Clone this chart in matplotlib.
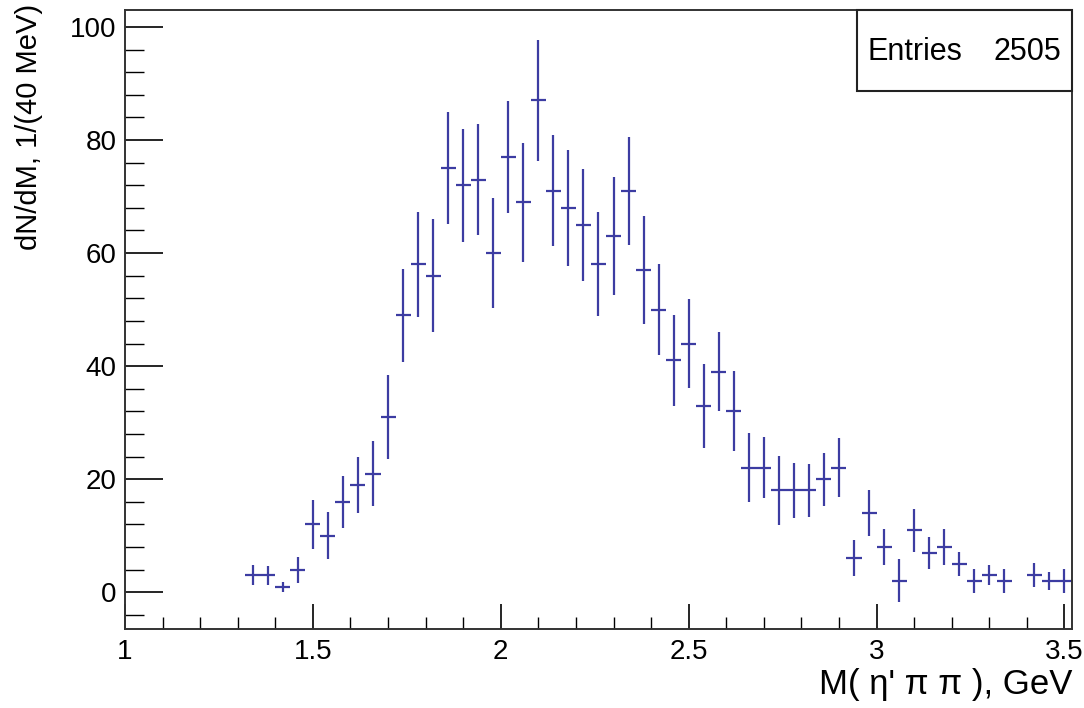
import numpy as np
import matplotlib
matplotlib.use('Agg')
import matplotlib.pyplot as plt
from matplotlib.patches import Rectangle
from matplotlib.ticker import MultipleLocator

plt.rcParams['font.family'] = ['Liberation Sans', 'DejaVu Sans']

# histogram, 40 MeV bins, centres of the non-empty bins
bin_width = 0.04
mass = [1.34, 1.38, 1.42, 1.46, 1.50, 1.54, 1.58, 1.62, 1.66, 1.70,
        1.74, 1.78, 1.82, 1.86, 1.90, 1.94, 1.98, 2.02, 2.06, 2.10,
        2.14, 2.18, 2.22, 2.26, 2.30, 2.34, 2.38, 2.42, 2.46, 2.50,
        2.54, 2.58, 2.62, 2.66, 2.70, 2.74, 2.78, 2.82, 2.86, 2.90,
        2.94, 2.98, 3.02, 3.06, 3.10, 3.14, 3.18, 3.22, 3.26, 3.30,
        3.34, 3.42, 3.46, 3.50]
counts = [3, 3, 1, 4, 12, 10, 16, 19, 21, 31,
          49, 58, 56, 75, 72, 73, 60, 77, 69, 87,
          71, 68, 65, 58, 63, 71, 57, 50, 41, 44,
          33, 39, 32, 22, 22, 18, 18, 18, 20, 22,
          6, 14, 8, 2, 11, 7, 8, 5, 2, 3,
          2, 3, 2, 2]
errors = [1.8, 1.7, 0.9, 2.3, 4.3, 4.2, 4.6, 5.0, 5.7, 7.4,
          8.2, 9.3, 10.0, 9.9, 10.0, 9.8, 9.8, 9.9, 10.5, 10.7,
          9.8, 10.3, 9.9, 9.2, 10.4, 9.5, 9.6, 8.0, 8.0, 7.8,
          7.4, 7.0, 7.1, 6.1, 5.4, 6.1, 4.9, 4.7, 4.7, 5.2,
          3.2, 4.1, 3.2, 3.8, 3.8, 2.8, 3.2, 2.2, 2.1, 1.8,
          2.1, 2.1, 1.6, 2.1]
entries = 2505

fig = plt.figure(figsize=(10.84, 7.08), dpi=100)
ax = fig.add_axes([0.1153, 0.1116, 0.8736, 0.8743])

ax.errorbar(mass, counts, xerr=bin_width / 2, yerr=errors, fmt='none',
            ecolor='#3c3ca2', elinewidth=1.6, capsize=0)

ax.set_xlim(1.0, 3.52)
ax.set_ylim(-6.5, 103)

# ROOT-like ticks: inward, only left and bottom
ax.xaxis.set_major_locator(MultipleLocator(0.5))
ax.xaxis.set_minor_locator(MultipleLocator(0.1))
ax.yaxis.set_major_locator(MultipleLocator(20))
ax.yaxis.set_minor_locator(MultipleLocator(4))
ax.tick_params(axis='x', which='major', direction='in', length=18, width=1.2, labelsize=20, pad=7)
ax.tick_params(axis='x', which='minor', direction='in', length=9, width=1.0)
ax.tick_params(axis='y', which='major', direction='in', length=27, width=1.2, labelsize=20, pad=6)
ax.tick_params(axis='y', which='minor', direction='in', length=14, width=1.0)
ax.set_xticks([1, 1.5, 2, 2.5, 3, 3.5])
ax.set_xticklabels(['1', '1.5', '2', '2.5', '3', '3.5'])
for sp in ax.spines.values():
    sp.set_color('#333333')
    sp.set_linewidth(1.4)

fig.text(0.989, 0.010, "M( η' π π ), GeV", ha='right', va='bottom', fontsize=25)
fig.text(0.027, 0.994, 'dN/dM, 1/(40 MeV)', rotation=90, ha='center', va='top', fontsize=21)

# stats box
box = Rectangle((857 / 1084, 1 - 91 / 708), (1072 - 857) / 1084, (91 - 10) / 708,
                transform=fig.transFigure, facecolor='white', edgecolor='#222222',
                linewidth=1.5, zorder=5)
fig.add_artist(box)
fig.text(867 / 1084, 1 - 52 / 708, 'Entries', ha='left', va='center', fontsize=22, zorder=6)
fig.text(1061 / 1084, 1 - 52 / 708, str(entries), ha='right', va='center', fontsize=22, zorder=6)

fig.savefig('out.png', dpi=100)
